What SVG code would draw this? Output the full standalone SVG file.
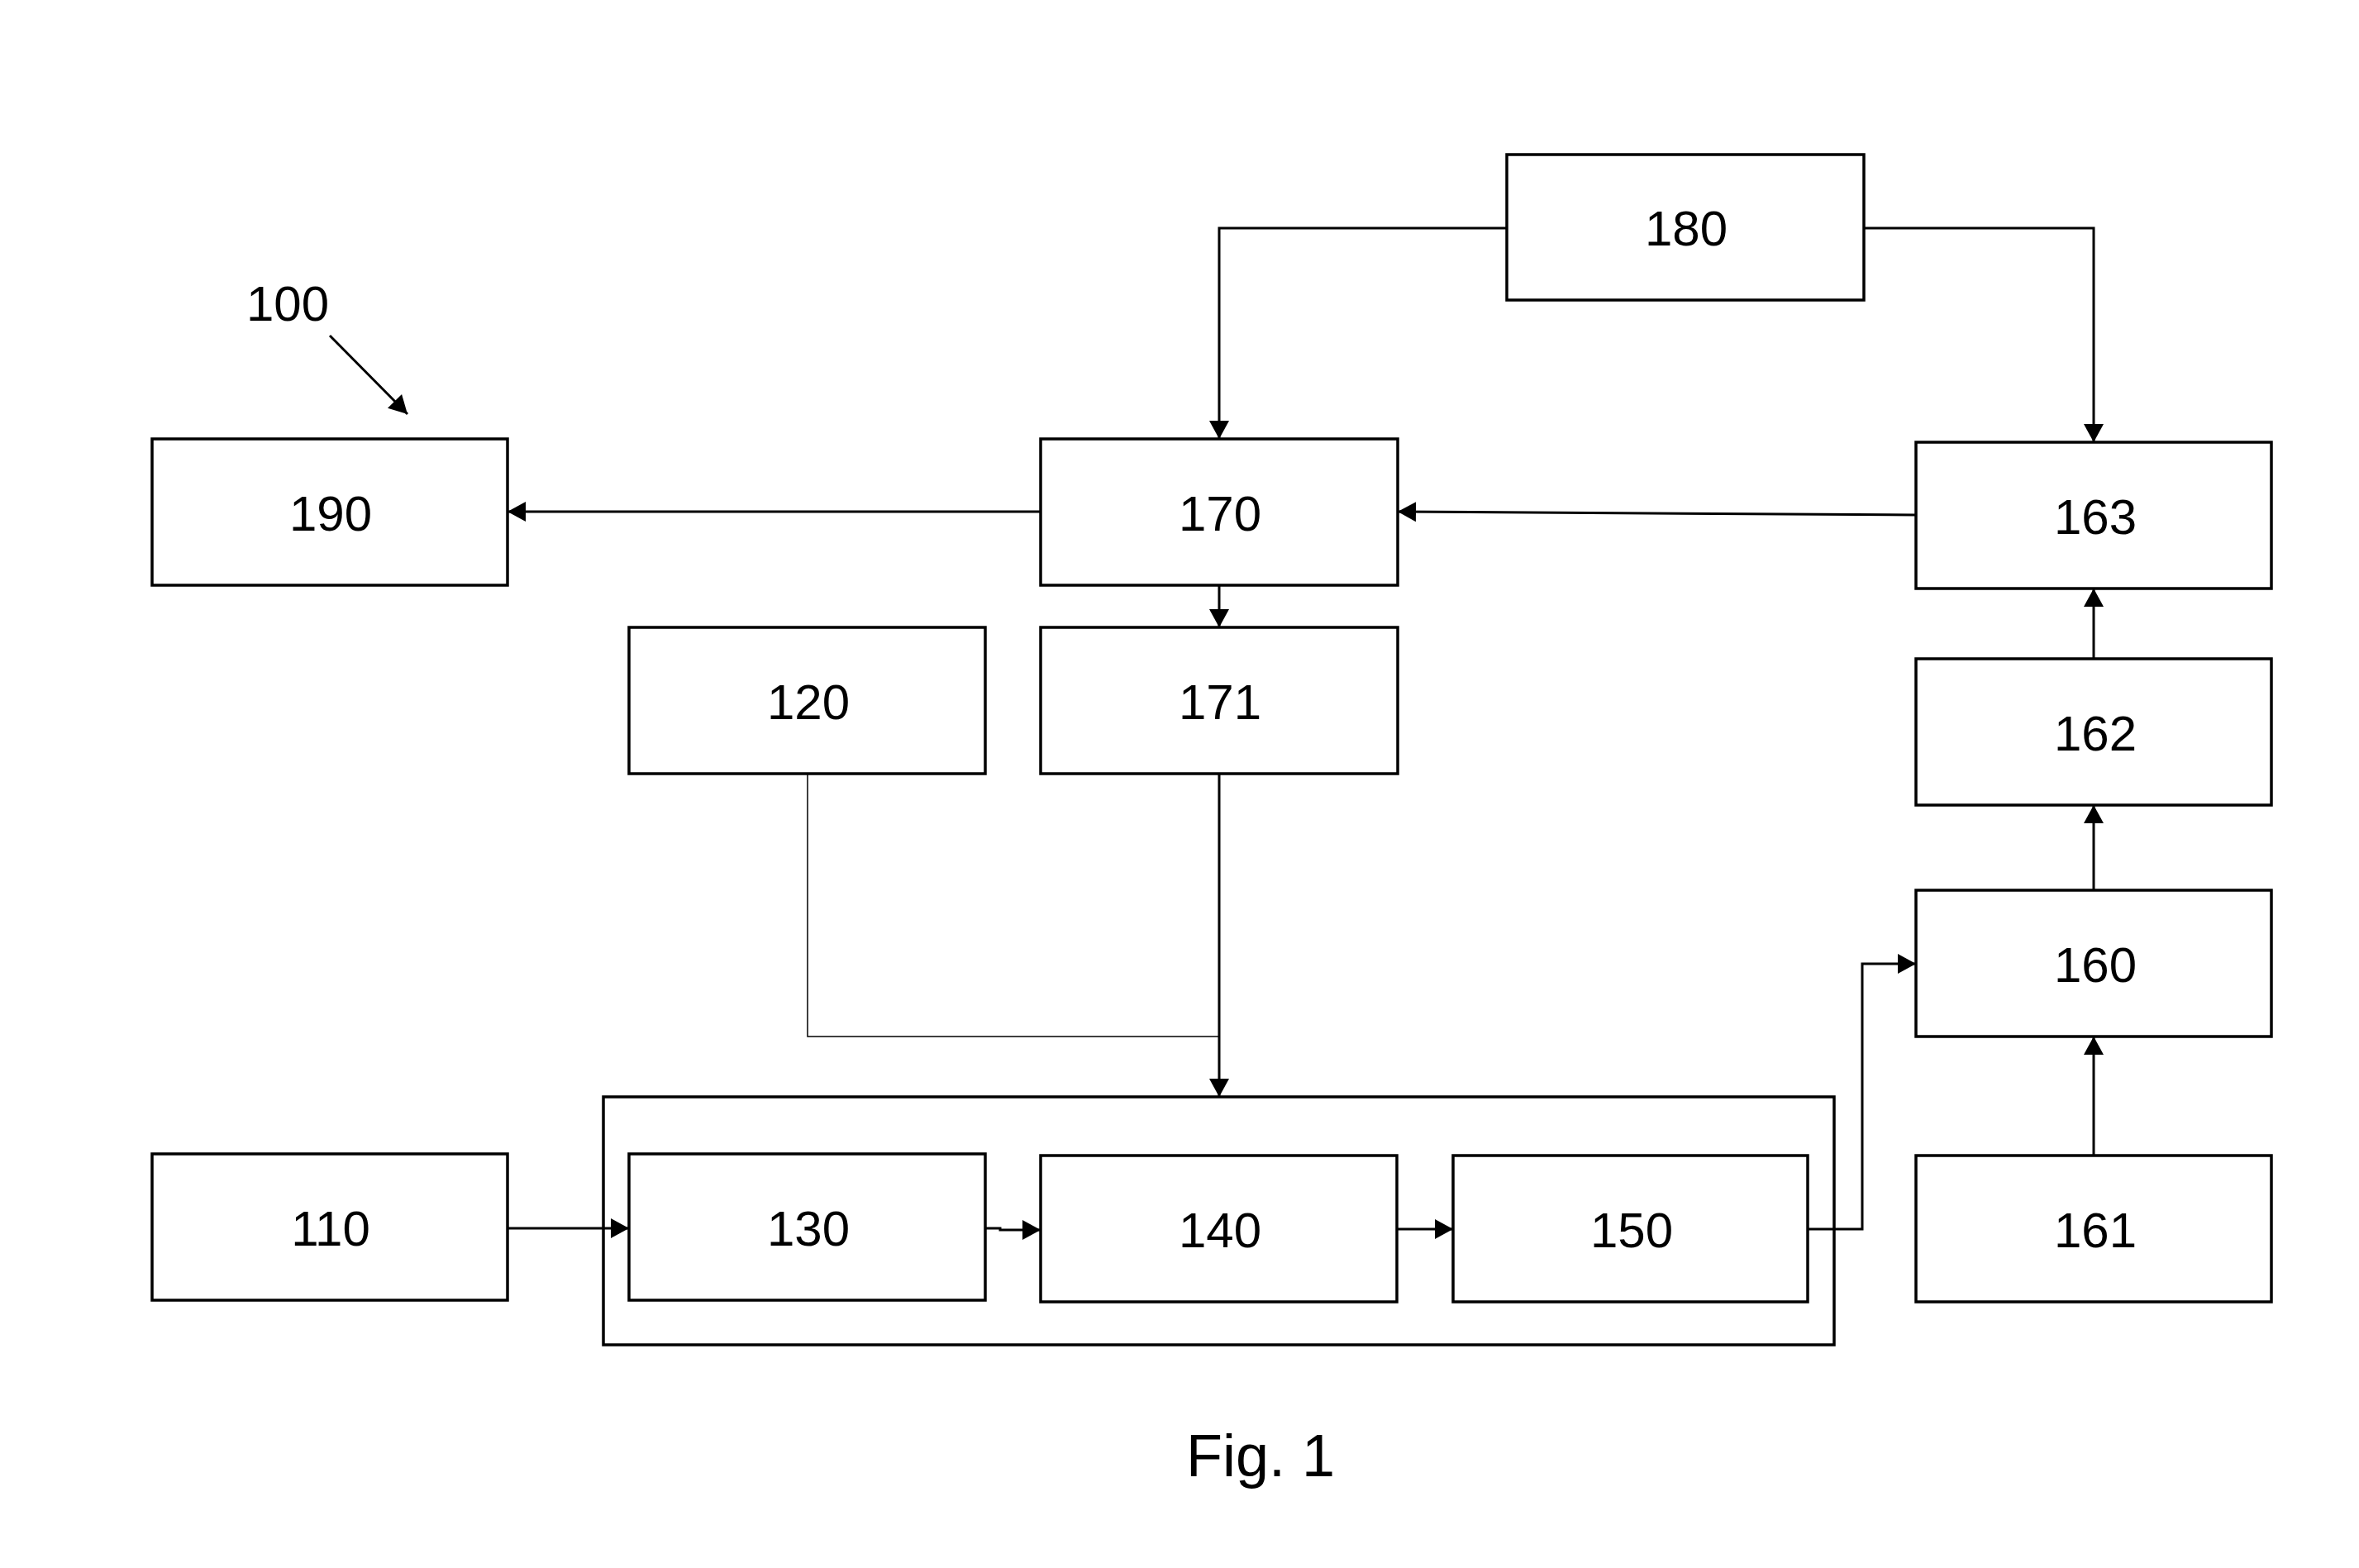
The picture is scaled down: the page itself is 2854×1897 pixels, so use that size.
<svg xmlns="http://www.w3.org/2000/svg" width="2854" height="1897" viewBox="0 0 2854 1897">
<style>
.box{fill:#fff;stroke:#000;stroke-width:3.5}
.lbl{font-family:"Liberation Sans",Arial,sans-serif;font-size:60px;text-anchor:middle;fill:#000}
.con{fill:none;stroke:#000;stroke-width:3}
.thin{fill:none;stroke:#000;stroke-width:1.5}
</style>
<defs>
<marker id="ah" markerUnits="userSpaceOnUse" markerWidth="24" markerHeight="26" viewBox="0 0 22 26" refX="22" refY="13" orient="auto">
<path d="M0,1 L22,13 L0,25 z" fill="#000"/>
</marker>
</defs>
<rect width="2854" height="1897" fill="#fff"/>
<g id="container"><rect class="box" x="730" y="1327" width="1489" height="300"/></g>
<g id="n180"><rect class="box" x="1823" y="187" width="432" height="176"/><text class="lbl" x="2040" y="297">180</text></g>
<g id="n190"><rect class="box" x="184" y="531" width="430" height="177"/><text class="lbl" x="400" y="642">190</text></g>
<g id="n170"><rect class="box" x="1259" y="531" width="432" height="177"/><text class="lbl" x="1476" y="642">170</text></g>
<g id="n163"><rect class="box" x="2318" y="535" width="430" height="177"/><text class="lbl" x="2535" y="646">163</text></g>
<g id="n120"><rect class="box" x="761" y="759" width="431" height="177"/><text class="lbl" x="978" y="870">120</text></g>
<g id="n171"><rect class="box" x="1259" y="759" width="432" height="177"/><text class="lbl" x="1476" y="870">171</text></g>
<g id="n162"><rect class="box" x="2318" y="797" width="430" height="177"/><text class="lbl" x="2535" y="908">162</text></g>
<g id="n160"><rect class="box" x="2318" y="1077" width="430" height="177"/><text class="lbl" x="2535" y="1188">160</text></g>
<g id="n110"><rect class="box" x="184" y="1396" width="430" height="177"/><text class="lbl" x="400" y="1507">110</text></g>
<g id="n130"><rect class="box" x="761" y="1396" width="431" height="177"/><text class="lbl" x="978" y="1507">130</text></g>
<g id="n140"><rect class="box" x="1259" y="1398" width="431" height="177"/><text class="lbl" x="1476" y="1509">140</text></g>
<g id="n150"><rect class="box" x="1758" y="1398" width="429" height="177"/><text class="lbl" x="1974" y="1509">150</text></g>
<g id="n161"><rect class="box" x="2318" y="1398" width="430" height="177"/><text class="lbl" x="2535" y="1509">161</text></g>
<g id="n100"><text class="lbl" x="348" y="388">100</text></g>
<g id="connectors">
<path class="con" d="M1823,276 H1475 V531" marker-end="url(#ah)"/>
<path class="con" d="M2255,276 H2533 V535" marker-end="url(#ah)"/>
<path class="con" d="M2318,623 L1691,619" marker-end="url(#ah)"/>
<path class="con" d="M1259,619 H614" marker-end="url(#ah)"/>
<path class="con" d="M1475,708 V759" marker-end="url(#ah)"/>
<path class="con" d="M1475,936 V1327" marker-end="url(#ah)"/>
<path class="thin" d="M977,936 V1254 H1475"/>
<path class="con" d="M614,1486 H761" marker-end="url(#ah)"/>
<path class="con" d="M1192,1486 H1210 V1488 H1259" marker-end="url(#ah)"/>
<path class="con" d="M1690,1487 H1758" marker-end="url(#ah)"/>
<path class="con" d="M2187,1487 H2253 V1166 H2318" marker-end="url(#ah)"/>
<path class="con" d="M2533,1398 V1254" marker-end="url(#ah)"/>
<path class="con" d="M2533,1077 V974" marker-end="url(#ah)"/>
<path class="con" d="M2533,797 V712" marker-end="url(#ah)"/>
<path class="con" d="M399,406 L493,501" marker-end="url(#ah)"/>
</g>
<text class="lbl" x="1525" y="1786" style="font-size:72px">Fig. 1</text>
</svg>
